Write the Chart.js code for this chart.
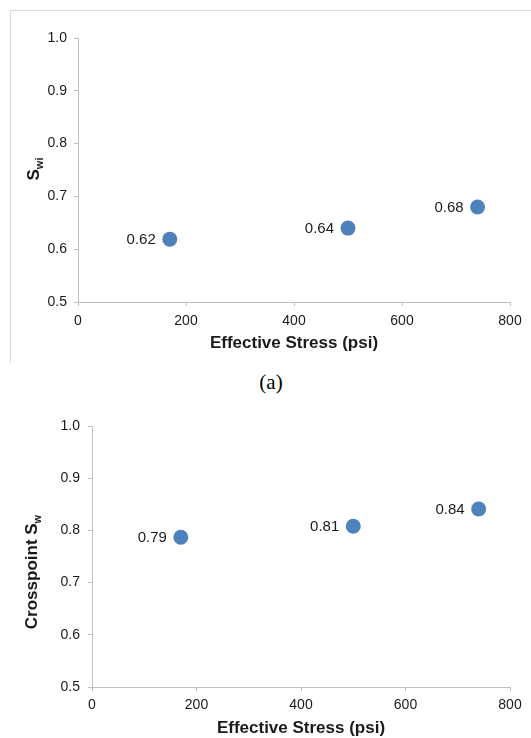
<!DOCTYPE html>
<html>
<head>
<meta charset="utf-8">
<script src="https://cdn.jsdelivr.net/npm/chart.js@4/dist/chart.umd.min.js"></script>
<style>
    body { margin: 0; background: #fff; }
    #wrap { position: relative; width: 531px; height: 738px; overflow: hidden; }
    #frame { position: absolute; left: 10px; top: 10px; width: 600px; height: 352px; border-top: 1px solid #d9d9d9; border-left: 1px solid #d9d9d9; }
    #topChart { position: absolute; left: 0; top: 0; }
    #bottomChart { position: absolute; left: 0; top: 380px; }
    #caption { position: absolute; left: 0; width: 542px; top: 370px; text-align: center; font-family: "Liberation Serif", serif; font-size: 21px; color: #000; }
</style>
</head>
<body>
<div id="wrap">
    <div id="frame"></div>
    <canvas id="topChart" width="531" height="370"></canvas>
    <div id="caption">(a)</div>
    <canvas id="bottomChart" width="531" height="361"></canvas>
</div>
<script>
const stressTop = [170, 500, 740];
const swiValues = [0.619, 0.640, 0.680];
const stressBottom = [170, 500, 740];
const crosspointValues = [0.787, 0.808, 0.841];
const xTicks = [0, 200, 400, 600, 800];
const yTicks = [0.5, 0.6, 0.7, 0.8, 0.9, 1.0];

const textColor = "#1a1a1a";
const axisColor = "#bfbfbf";
const dotColor = "#4f81bd";

// value labels to the left of each dot
const pointLabels = {
    id: "pointLabels",
    afterDatasetsDraw(chart) {
        const ctx = chart.ctx;
        const meta = chart.getDatasetMeta(0);
        const data = chart.data.datasets[0].data;
        ctx.save();
        ctx.font = '15px "Liberation Sans", Arial, sans-serif';
        ctx.fillStyle = textColor;
        ctx.textAlign = "right";
        ctx.textBaseline = "middle";
        meta.data.forEach((pt, i) => {
            ctx.fillText(data[i].y.toFixed(2), pt.x - 14, pt.y + 1);
        });
        ctx.restore();
    }
};

// rotated y title with a subscript part
const yTitle = {
    id: "yTitle",
    afterDraw(chart, args, opts) {
        const ctx = chart.ctx;
        ctx.save();
        ctx.translate(opts.x, opts.y);
        ctx.rotate(-Math.PI / 2);
        ctx.fillStyle = textColor;
        ctx.textAlign = "left";
        ctx.textBaseline = "alphabetic";
        ctx.font = 'bold 17px "Liberation Sans", Arial, sans-serif';
        const w1 = ctx.measureText(opts.main).width;
        ctx.font = 'bold 11px "Liberation Sans", Arial, sans-serif';
        const w2 = ctx.measureText(opts.sub).width;
        const start = -(w1 + w2) / 2;
        ctx.font = 'bold 17px "Liberation Sans", Arial, sans-serif';
        ctx.fillText(opts.main, start, 0);
        ctx.font = 'bold 11px "Liberation Sans", Arial, sans-serif';
        ctx.fillText(opts.sub, start + w1, 4);
        ctx.restore();
    }
};

function makeChart(canvasId, xs, ys, area, title) {
    const points = xs.map((x, i) => ({ x: x, y: ys[i] }));
    return new Chart(document.getElementById(canvasId), {
        type: "scatter",
        data: {
            datasets: [{
                data: points,
                backgroundColor: dotColor,
                borderWidth: 0,
                pointRadius: 7.5,
                pointHoverRadius: 7.5
            }]
        },
        options: {
            responsive: false,
            animation: false,
            events: [],
            layout: {
                padding: { left: 0, right: area.right, top: area.top, bottom: area.bottom }
            },
            scales: {
                x: {
                    type: "linear",
                    min: 0,
                    max: 800,
                    afterBuildTicks: (scale) => { scale.ticks = xTicks.map(v => ({ value: v })); },
                    afterFit: (scale) => { scale.height = area.xHeight; },
                    grid: { drawOnChartArea: false, drawTicks: true, tickLength: 4, color: axisColor },
                    border: { color: axisColor, width: 1 },
                    ticks: {
                        color: textColor,
                        padding: area.xPad,
                        font: { family: '"Liberation Sans", Arial, sans-serif', size: 14 },
                        callback: (v) => String(v)
                    },
                    title: {
                        display: true,
                        text: "Effective Stress (psi)",
                        color: textColor,
                        padding: 0,
                        font: { family: '"Liberation Sans", Arial, sans-serif', size: 17, weight: "bold" }
                    }
                },
                y: {
                    type: "linear",
                    min: 0.5,
                    max: 1.0,
                    afterBuildTicks: (scale) => { scale.ticks = yTicks.map(v => ({ value: v })); },
                    afterFit: (scale) => { scale.width = area.left; },
                    grid: { drawOnChartArea: false, drawTicks: true, tickLength: 4, color: axisColor },
                    border: { color: axisColor, width: 1 },
                    ticks: {
                        color: textColor,
                        padding: area.tickPad,
                        font: { family: '"Liberation Sans", Arial, sans-serif', size: 14 },
                        callback: (v) => Number(v).toFixed(1)
                    }
                }
            },
            plugins: {
                legend: { display: false },
                tooltip: { enabled: false },
                yTitle: title
            }
        },
        plugins: [pointLabels, yTitle]
    });
}

makeChart("topChart", stressTop, swiValues,
    { left: 78, right: 21, top: 38, bottom: 16, tickPad: 7, xHeight: 52, xPad: 7 },
    { main: "S", sub: "wi", x: 39, y: 169 });

makeChart("bottomChart", stressBottom, crosspointValues,
    { left: 92, right: 21, top: 46, bottom: 2, tickPad: 8, xHeight: 52, xPad: 6 },
    { main: "Crosspoint S", sub: "w", x: 36.5, y: 192 });
</script>
</body>
</html>
